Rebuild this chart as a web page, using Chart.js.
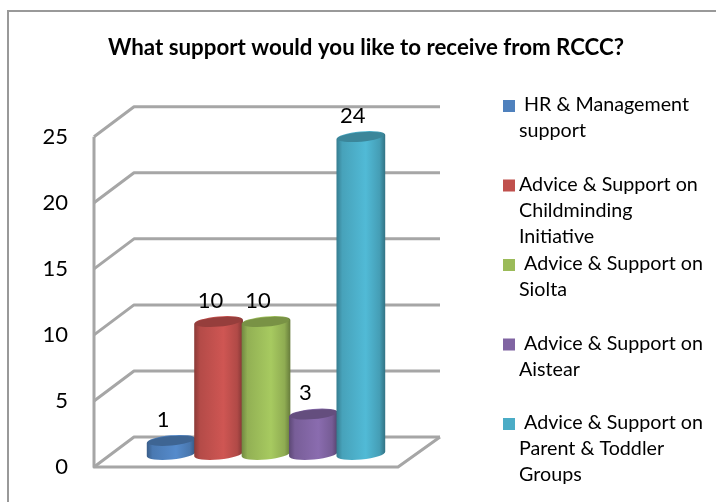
<!DOCTYPE html>
<html lang="en">
<head>
<meta charset="UTF-8">
<title>What support would you like to receive from RCCC?</title>
<script src="https://cdn.jsdelivr.net/npm/chart.js"></script>
<style>
  html, body { margin: 0; padding: 0; background: #fff; }
  #wrap { width: 716px; height: 502px; }
</style>
</head>
<body>
<div id="wrap"><canvas id="chart" width="716" height="502"></canvas></div>
<script>
  const chartTitle = 'What support would you like to receive from RCCC?';
  const categories = [''];
  const seriesNames = [
    'HR & Management support',
    'Advice & Support on Childminding Initiative',
    'Advice & Support on Siolta',
    'Advice & Support on Aistear',
    'Advice & Support on Parent & Toddler Groups'
  ];
  const seriesValues = [1, 10, 10, 3, 24];
  const seriesColors = ['#4F81BD', '#C0504D', '#9BBB59', '#8064A2', '#4BACC6'];
  const legendLines = [
    [' HR & Management', 'support'],
    ['Advice & Support on', 'Childminding', 'Initiative'],
    [' Advice & Support on', 'Siolta'],
    [' Advice & Support on', 'Aistear'],
    [' Advice & Support on', 'Parent & Toddler', 'Groups']
  ];

  const FONT = 'Lato, "Open Sans", sans-serif';
  const GRID = '#a6a6a6';
  const DEPTH_X = 40, DEPTH_Y = 30;   // back wall offset
  const BAR_DX = 20, BAR_DY = -13;    // cylinders stand mid floor

  function shade(hex, f) {
    const n = parseInt(hex.slice(1), 16);
    const c = [n >> 16, (n >> 8) & 255, n & 255].map(v => Math.min(255, Math.round(v * f)));
    return `rgb(${c[0]},${c[1]},${c[2]})`;
  }

  const threeD = {
    id: 'threeD',
    // frame, walls and floor, from the y scale
    beforeDatasetsDraw(chart) {
      const { ctx, chartArea: a, scales: { y } } = chart;
      ctx.save();
      ctx.strokeStyle = '#999';
      ctx.lineWidth = 2;
      ctx.beginPath();
      ctx.moveTo(8, 502); ctx.lineTo(8, 11); ctx.lineTo(716, 11);
      ctx.stroke();

      ctx.strokeStyle = GRID;
      ctx.lineWidth = 3;
      ctx.lineJoin = 'round';
      const backRight = a.right + DEPTH_X + 2;
      y.ticks.forEach(t => {
        const py = y.getPixelForValue(t.value);
        ctx.beginPath();
        ctx.moveTo(a.left, py);
        ctx.lineTo(a.left + DEPTH_X, py - DEPTH_Y);
        ctx.lineTo(backRight, py - DEPTH_Y);
        ctx.stroke();
      });
      const p0 = y.getPixelForValue(0);
      ctx.beginPath();
      ctx.moveTo(a.left, y.getPixelForValue(25));
      ctx.lineTo(a.left, p0);
      ctx.lineTo(a.right, p0);
      ctx.lineTo(backRight, p0 - DEPTH_Y);
      ctx.stroke();

      // cylinders, left to right so the right one overlaps
      chart.data.datasets.forEach((ds, i) => {
        const bar = chart.getDatasetMeta(i).data[0];
        drawCylinder(ctx, bar.x + BAR_DX, bar.y + BAR_DY, bar.base + BAR_DY, bar.width + 1.5, seriesColors[i]);
        ctx.fillStyle = '#000';
        ctx.font = '22px ' + FONT;
        ctx.textAlign = 'center';
        ctx.textBaseline = 'middle';
        ctx.fillText(String(ds.data[0]), bar.x + BAR_DX - 8, bar.y + BAR_DY - 21);
      });
      ctx.restore();
    },
    beforeDatasetDraw() { return false; },
    // wrapped legend on the right
    afterDraw(chart) {
      const { ctx } = chart;
      ctx.save();
      ctx.textBaseline = 'middle';
      ctx.textAlign = 'left';
      ctx.font = '19.7px ' + FONT;
      legendLines.forEach((lines, i) => {
        const top = 105 + i * 79.5;
        ctx.fillStyle = seriesColors[i];
        ctx.fillRect(503, top - 5, 12, 12);
        ctx.fillStyle = '#000';
        lines.forEach((line, j) => ctx.fillText(line, 519, top + j * 26));
      });
      ctx.restore();
    }
  };

  function drawCylinder(ctx, x, top, base, w, color) {
    const rx = w / 2, ry = 5.5, rot = -0.09;
    const g = ctx.createLinearGradient(x - rx, 0, x + rx, 0);
    g.addColorStop(0, shade(color, 0.72));
    g.addColorStop(0.12, shade(color, 0.94));
    g.addColorStop(0.6, shade(color, 1.08));
    g.addColorStop(0.88, shade(color, 0.92));
    g.addColorStop(1, shade(color, 0.66));
    ctx.fillStyle = g;
    ctx.beginPath();
    ctx.ellipse(x, base, rx, ry, rot, 0, Math.PI);
    ctx.ellipse(x, top, rx, ry, rot, Math.PI, Math.PI * 2);
    ctx.closePath();
    ctx.fill();
    ctx.fillStyle = shade(color, 0.78);
    ctx.beginPath();
    ctx.ellipse(x, top, rx - 1, ry - 0.8, rot, 0, Math.PI * 2);
    ctx.fill();
  }

  new Chart(document.getElementById('chart'), {
    type: 'bar',
    data: {
      labels: categories,
      datasets: seriesNames.map((name, i) => ({
        label: name,
        data: [seriesValues[i]],
        backgroundColor: seriesColors[i]
      }))
    },
    plugins: [threeD],
    options: {
      responsive: false,
      animation: false,
      layout: { padding: { left: 16, right: 0, top: 0, bottom: 35 } },
      categoryPercentage: 0.78,
      barPercentage: 1,
      plugins: {
        legend: { display: false },
        tooltip: { enabled: false },
        title: {
          display: true,
          text: chartTitle,
          color: '#000',
          font: { family: FONT, size: 22.3, weight: 'bold' },
          padding: { top: 34, bottom: 76 }
        }
      },
      scales: {
        x: {
          ticks: { display: false },
          grid: { display: false },
          border: { display: false },
          afterFit(s) { s.height = 0; }
        },
        y: {
          min: 0,
          max: 25,
          ticks: {
            stepSize: 5,
            color: '#000',
            padding: 0,
            font: { family: FONT, size: 22 }
          },
          // tickLength only pushes the labels away from the wall, no tick lines are drawn
          grid: { display: false, tickLength: 26 },
          border: { display: false },
          afterFit(s) { s.width = 78; }
        },
        // keeps the room for the legend on the right
        room: {
          position: 'right',
          display: false,
          afterFit(s) { s.width = 318; }
        }
      }
    }
  });
</script>
</body>
</html>
